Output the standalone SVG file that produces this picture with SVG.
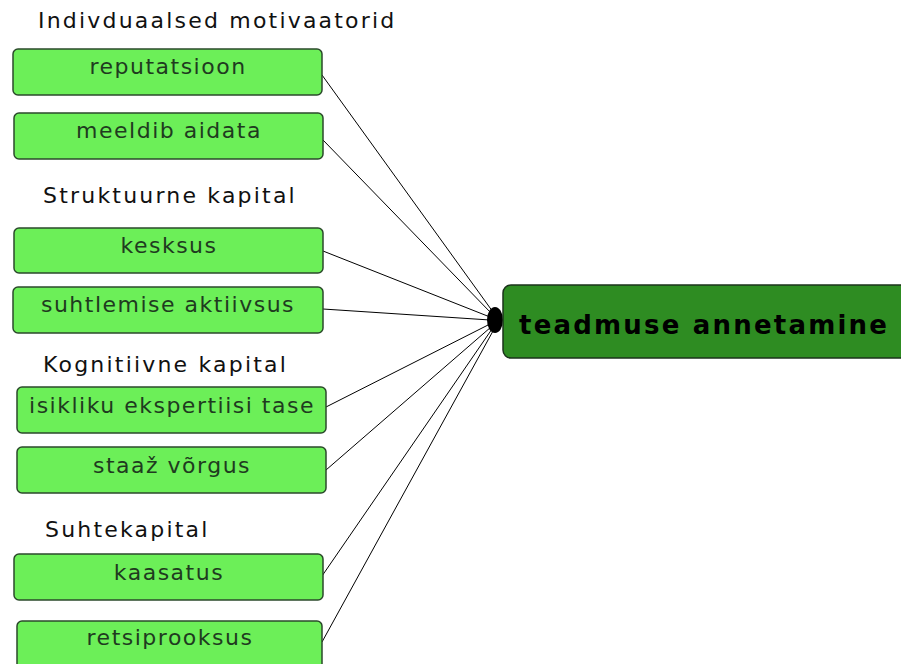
<svg xmlns="http://www.w3.org/2000/svg" width="901" height="664" viewBox="0 0 901 664">
  <style>
    .heading { font-family: "DejaVu Sans", Verdana, sans-serif; font-size: 22px; fill: #111; letter-spacing: 2.2px; }
    .factor rect { fill: #6cef58; stroke: #2b4a2b; stroke-width: 1.5; }
    .factor text { font-family: "DejaVu Sans", Verdana, sans-serif; font-size: 22px; fill: #1f3b1f; letter-spacing: 1.5px; text-anchor: middle; }
    .target rect { fill: #2e8c22; stroke: #1b331b; stroke-width: 1.5; }
    .target text { font-family: "DejaVu Sans", Verdana, sans-serif; font-weight: bold; font-size: 26px; fill: #000; letter-spacing: 2.2px; }
    .link { stroke: #000; stroke-width: 1; fill: none; }
  </style>

  <rect width="901" height="664" fill="#ffffff"/>

  <!-- group headings -->
  <text class="heading" x="38" y="28">Indivduaalsed motivaatorid</text>
  <text class="heading" x="43" y="203">Struktuurne kapital</text>
  <text class="heading" x="43" y="372">Kognitiivne kapital</text>
  <text class="heading" x="45" y="537">Suhtekapital</text>

  <!-- connectors into the target -->
  <g id="connectors">
    <line class="link" x1="322" y1="75" x2="493" y2="312"/>
    <line class="link" x1="323" y1="140" x2="492" y2="314"/>
    <line class="link" x1="323" y1="251" x2="490" y2="317"/>
    <line class="link" x1="323" y1="309" x2="490" y2="320"/>
    <line class="link" x1="326" y1="407" x2="490" y2="324"/>
    <line class="link" x1="326" y1="470" x2="491" y2="327"/>
    <line class="link" x1="322" y1="576" x2="492" y2="329"/>
    <line class="link" x1="322" y1="642" x2="493" y2="331"/>
    <ellipse cx="495" cy="320" rx="8" ry="13" fill="#000"/>
  </g>

  <g id="reputatsioon" class="factor">
    <rect x="13" y="49" width="309" height="46" rx="5"/>
    <text x="168" y="74">reputatsioon</text>
  </g>
  <g id="meeldib-aidata" class="factor">
    <rect x="14" y="113" width="309" height="46" rx="5"/>
    <text x="169" y="138">meeldib aidata</text>
  </g>
  <g id="kesksus" class="factor">
    <rect x="14" y="228" width="309" height="45" rx="5"/>
    <text x="169" y="253">kesksus</text>
  </g>
  <g id="suhtlemise-aktiivsus" class="factor">
    <rect x="13" y="287" width="310" height="46" rx="5"/>
    <text x="168" y="312">suhtlemise aktiivsus</text>
  </g>
  <g id="isikliku-ekspertiisi-tase" class="factor">
    <rect x="17" y="387" width="309" height="46" rx="5"/>
    <text x="172" y="413">isikliku ekspertiisi tase</text>
  </g>
  <g id="staaz-vorgus" class="factor">
    <rect x="17" y="447" width="309" height="46" rx="5"/>
    <text x="172" y="473">staaž võrgus</text>
  </g>
  <g id="kaasatus" class="factor">
    <rect x="14" y="554" width="309" height="46" rx="5"/>
    <text x="169" y="580">kaasatus</text>
  </g>
  <g id="retsiprooksus" class="factor">
    <rect x="17" y="621" width="305" height="50" rx="5"/>
    <text x="170" y="645">retsiprooksus</text>
  </g>

  <g id="teadmuse-annetamine" class="target">
    <rect x="503" y="285" width="410" height="73" rx="8"/>
    <text x="519" y="334">teadmuse annetamine</text>
  </g>
</svg>
